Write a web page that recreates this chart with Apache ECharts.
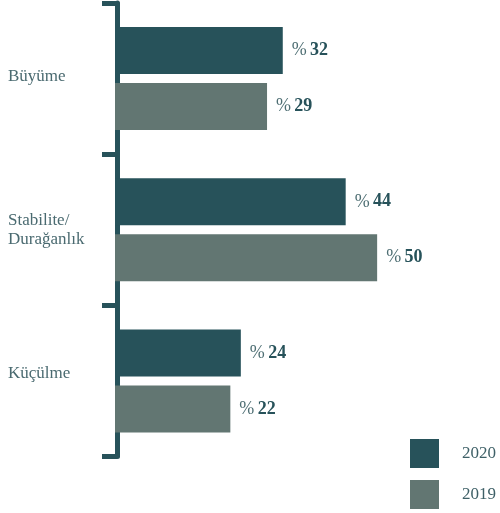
<!DOCTYPE html>
<html>
<head>
<meta charset="utf-8">
<script src="https://cdn.jsdelivr.net/npm/echarts@6/dist/echarts.min.js"></script>
<style>
  html, body { margin: 0; padding: 0; background: #ffffff; }
  #chart { width: 500px; height: 513px; }
</style>
</head>
<body>
<div id="chart"></div>
<script>
// Category names (top to bottom)
const categories = ['Büyüme', 'Stabilite/\nDurağanlık', 'Küçülme'];
// Series names
const seriesNames = ['2020', '2019'];
// Shares per category, in percent
const values2020 = [32, 44, 24];
const values2019 = [29, 50, 22];

const darkTeal = '#27525a';
const greyTeal = '#627672';
const serif = '"Liberation Serif", "DejaVu Serif", serif';

const chart = echarts.init(document.getElementById('chart'), null, { renderer: 'canvas' });

// Per-category vertical nudge of the axis label
const labelStyleKey = { 'Büyüme': 'a', 'Stabilite/\nDurağanlık': 'b', 'Küçülme': 'c' };

function valueLabel(color) {
  return {
    show: true,
    position: 'right',
    distance: 9,
    formatter: p => '{p|%} {n|' + p.value + '}',
    rich: {
      p: { fontFamily: serif, fontSize: 18, color: '#4f6f74' },
      n: { fontFamily: serif, fontSize: 18, fontWeight: 'bold', color: color }
    }
  };
}

chart.setOption({
  animation: false,
  backgroundColor: '#ffffff',
  grid: { left: 115, right: 18, top: 3, bottom: 56.5, containLabel: false },
  legend: {
    orient: 'vertical',
    left: 410,
    top: 439,
    padding: 0,
    itemWidth: 29,
    itemHeight: 29,
    itemGap: 12,
    icon: 'rect',
    data: seriesNames,
    textStyle: { fontFamily: serif, fontSize: 17, color: '#3e6067', padding: [0, 0, 0, 18] }
  },
  xAxis: {
    type: 'value',
    min: 0,
    max: 70,
    show: false
  },
  yAxis: {
    type: 'category',
    inverse: true,
    data: categories,
    offset: -2,
    axisLine: { show: true, lineStyle: { color: darkTeal, width: 5 } },
    axisTick: { show: true, length: 15, lineStyle: { color: darkTeal, width: 5 } },
    axisLabel: {
      align: 'left',
      margin: 109,
      lineHeight: 19,
      formatter: v => '{' + labelStyleKey[v] + '|' + v + '}',
      rich: {
        a: { fontFamily: serif, fontSize: 17, color: '#4a6a70', lineHeight: 19, padding: [0, 0, 4, 0] },
        b: { fontFamily: serif, fontSize: 17, color: '#4a6a70', lineHeight: 19, padding: [0, 0, 0, 0] },
        c: { fontFamily: serif, fontSize: 17, color: '#4a6a70', lineHeight: 19, padding: [0, 0, 14, 0] }
      }
    },
    splitLine: { show: false }
  },
  series: [
    {
      name: seriesNames[0],
      type: 'bar',
      data: values2020,
      barWidth: 47,
      barGap: '19%',
      itemStyle: { color: darkTeal },
      label: valueLabel(darkTeal)
    },
    {
      name: seriesNames[1],
      type: 'bar',
      data: values2019,
      barWidth: 47,
      barGap: '19%',
      itemStyle: { color: greyTeal },
      label: valueLabel(darkTeal)
    }
  ]
});
</script>
</body>
</html>
